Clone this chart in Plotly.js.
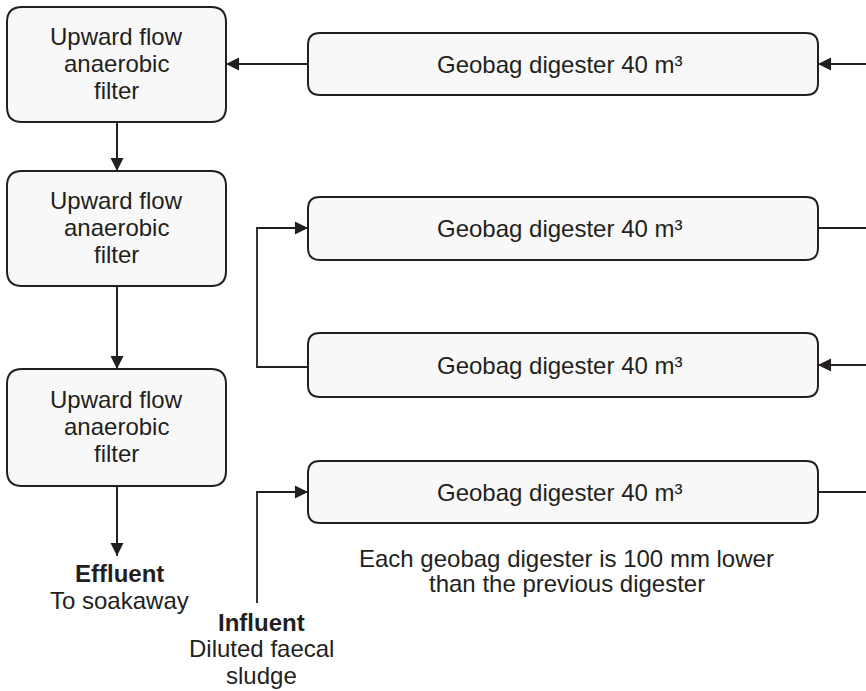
<!DOCTYPE html>
<html>
<head>
<meta charset="utf-8">
<script src="https://cdn.plot.ly/plotly-3.0.1.min.js"></script>
<style>html,body{margin:0;padding:0;background:#fff;}#chart{width:866px;height:691px;}</style>
</head>
<body>
<div id="chart"></div>
<script>
// ---- content ----
const filterLabels = [
  ['Upward flow', 'anaerobic', 'filter'],
  ['Upward flow', 'anaerobic', 'filter'],
  ['Upward flow', 'anaerobic', 'filter']
];
const digesterLabels = [
  'Geobag digester 40 m³',
  'Geobag digester 40 m³',
  'Geobag digester 40 m³',
  'Geobag digester 40 m³'
];
const effluentLines = ['<b>Effluent</b>', 'To soakaway'];
const influentLines = ['<b>Influent</b>', 'Diluted faecal', 'sludge'];
const noteLines = ['Each geobag digester is 100 mm lower', 'than the previous digester'];

// ---- geometry (pixel-like data coordinates) ----
const filterX = [7, 226];
const filterY = [[7, 122], [171, 286], [369, 486]];
const digX = [308, 818];
const digY = [[33, 95], [197, 260], [333, 397], [461, 523]];
const links = [
  {pts: [[870, 64], [818, 64]], arrow: true},
  {pts: [[308, 64], [226, 64]], arrow: true},
  {pts: [[818, 228], [870, 228]], arrow: false},
  {pts: [[870, 365], [818, 365]], arrow: true},
  {pts: [[308, 367], [257, 367], [257, 228], [308, 228]], arrow: true},
  {pts: [[818, 492], [870, 492]], arrow: false},
  {pts: [[257, 603], [257, 492], [308, 492]], arrow: true},
  {pts: [[117, 122], [117, 171]], arrow: true},
  {pts: [[117, 286], [117, 369]], arrow: true},
  {pts: [[117, 486], [117, 556]], arrow: true}
];

const INK = '#231f20';
const FILL = '#f8f8f8';
const FONT = {family: 'Liberation Sans, Arial, sans-serif', size: 24, color: INK};

function roundRect(x0, y0, x1, y1, r) {
  return 'M' + (x0 + r) + ',' + y0 + ' L' + (x1 - r) + ',' + y0 +
    ' Q' + x1 + ',' + y0 + ' ' + x1 + ',' + (y0 + r) +
    ' L' + x1 + ',' + (y1 - r) +
    ' Q' + x1 + ',' + y1 + ' ' + (x1 - r) + ',' + y1 +
    ' L' + (x0 + r) + ',' + y1 +
    ' Q' + x0 + ',' + y1 + ' ' + x0 + ',' + (y1 - r) +
    ' L' + x0 + ',' + (y0 + r) +
    ' Q' + x0 + ',' + y0 + ' ' + (x0 + r) + ',' + y0 + ' Z';
}

const shapes = [];
const annotations = [];
const traces = [];

filterY.forEach(function (yy, i) {
  shapes.push({type: 'path', xref: 'x', yref: 'y', path: roundRect(filterX[0], yy[0], filterX[1], yy[1], 15),
    fillcolor: FILL, line: {color: INK, width: 2}, layer: 'below'});
  const cx = (filterX[0] + filterX[1]) / 2;
  const cy = (yy[0] + yy[1]) / 2 - 1.5;
  filterLabels[i].forEach(function (t, j) {
    annotations.push({x: cx, y: cy + (j - 1) * 27, xref: 'x', yref: 'y', text: t, showarrow: false,
      xanchor: 'center', yanchor: 'middle', font: FONT});
  });
});

digY.forEach(function (yy, i) {
  shapes.push({type: 'path', xref: 'x', yref: 'y', path: roundRect(digX[0], yy[0], digX[1], yy[1], 12),
    fillcolor: FILL, line: {color: INK, width: 2}, layer: 'below'});
  annotations.push({x: (digX[0] + digX[1]) / 2 - 3.5, y: (yy[0] + yy[1]) / 2, xref: 'x', yref: 'y',
    text: digesterLabels[i], showarrow: false, xanchor: 'center', yanchor: 'middle', font: FONT});
});

links.forEach(function (lk) {
  traces.push({x: lk.pts.map(function (p) { return p[0]; }), y: lk.pts.map(function (p) { return p[1]; }),
    type: 'scatter', mode: 'lines', line: {color: INK, width: 1.8}, hoverinfo: 'skip', showlegend: false});
  if (lk.arrow) {
    const a = lk.pts[lk.pts.length - 2], b = lk.pts[lk.pts.length - 1];
    annotations.push({x: b[0], y: b[1], ax: a[0], ay: a[1], xref: 'x', yref: 'y', axref: 'x', ayref: 'y',
      text: '', showarrow: true, arrowhead: 2, arrowsize: 1.45, arrowwidth: 1.8, arrowcolor: INK, standoff: 0});
  }
});

function textBlock(lines, cx, cy0, step) {
  lines.forEach(function (t, j) {
    annotations.push({x: cx, y: cy0 + j * step, xref: 'x', yref: 'y', text: t, showarrow: false,
      xanchor: 'center', yanchor: 'middle', font: FONT});
  });
}
textBlock(effluentLines, 119, 573, 27);
textBlock(influentLines, 261.5, 622, 26.5);
textBlock(noteLines, 566.5, 558, 25);

const layout = {
  width: 866, height: 691,
  margin: {l: 0, r: 0, t: 0, b: 0},
  paper_bgcolor: '#ffffff', plot_bgcolor: '#ffffff',
  xaxis: {range: [0, 866], visible: false, fixedrange: true},
  yaxis: {range: [691, 0], visible: false, fixedrange: true},
  shapes: shapes,
  annotations: annotations,
  showlegend: false,
  hovermode: false
};

Plotly.newPlot('chart', traces, layout, {staticPlot: true, displayModeBar: false});
</script>
</body>
</html>
